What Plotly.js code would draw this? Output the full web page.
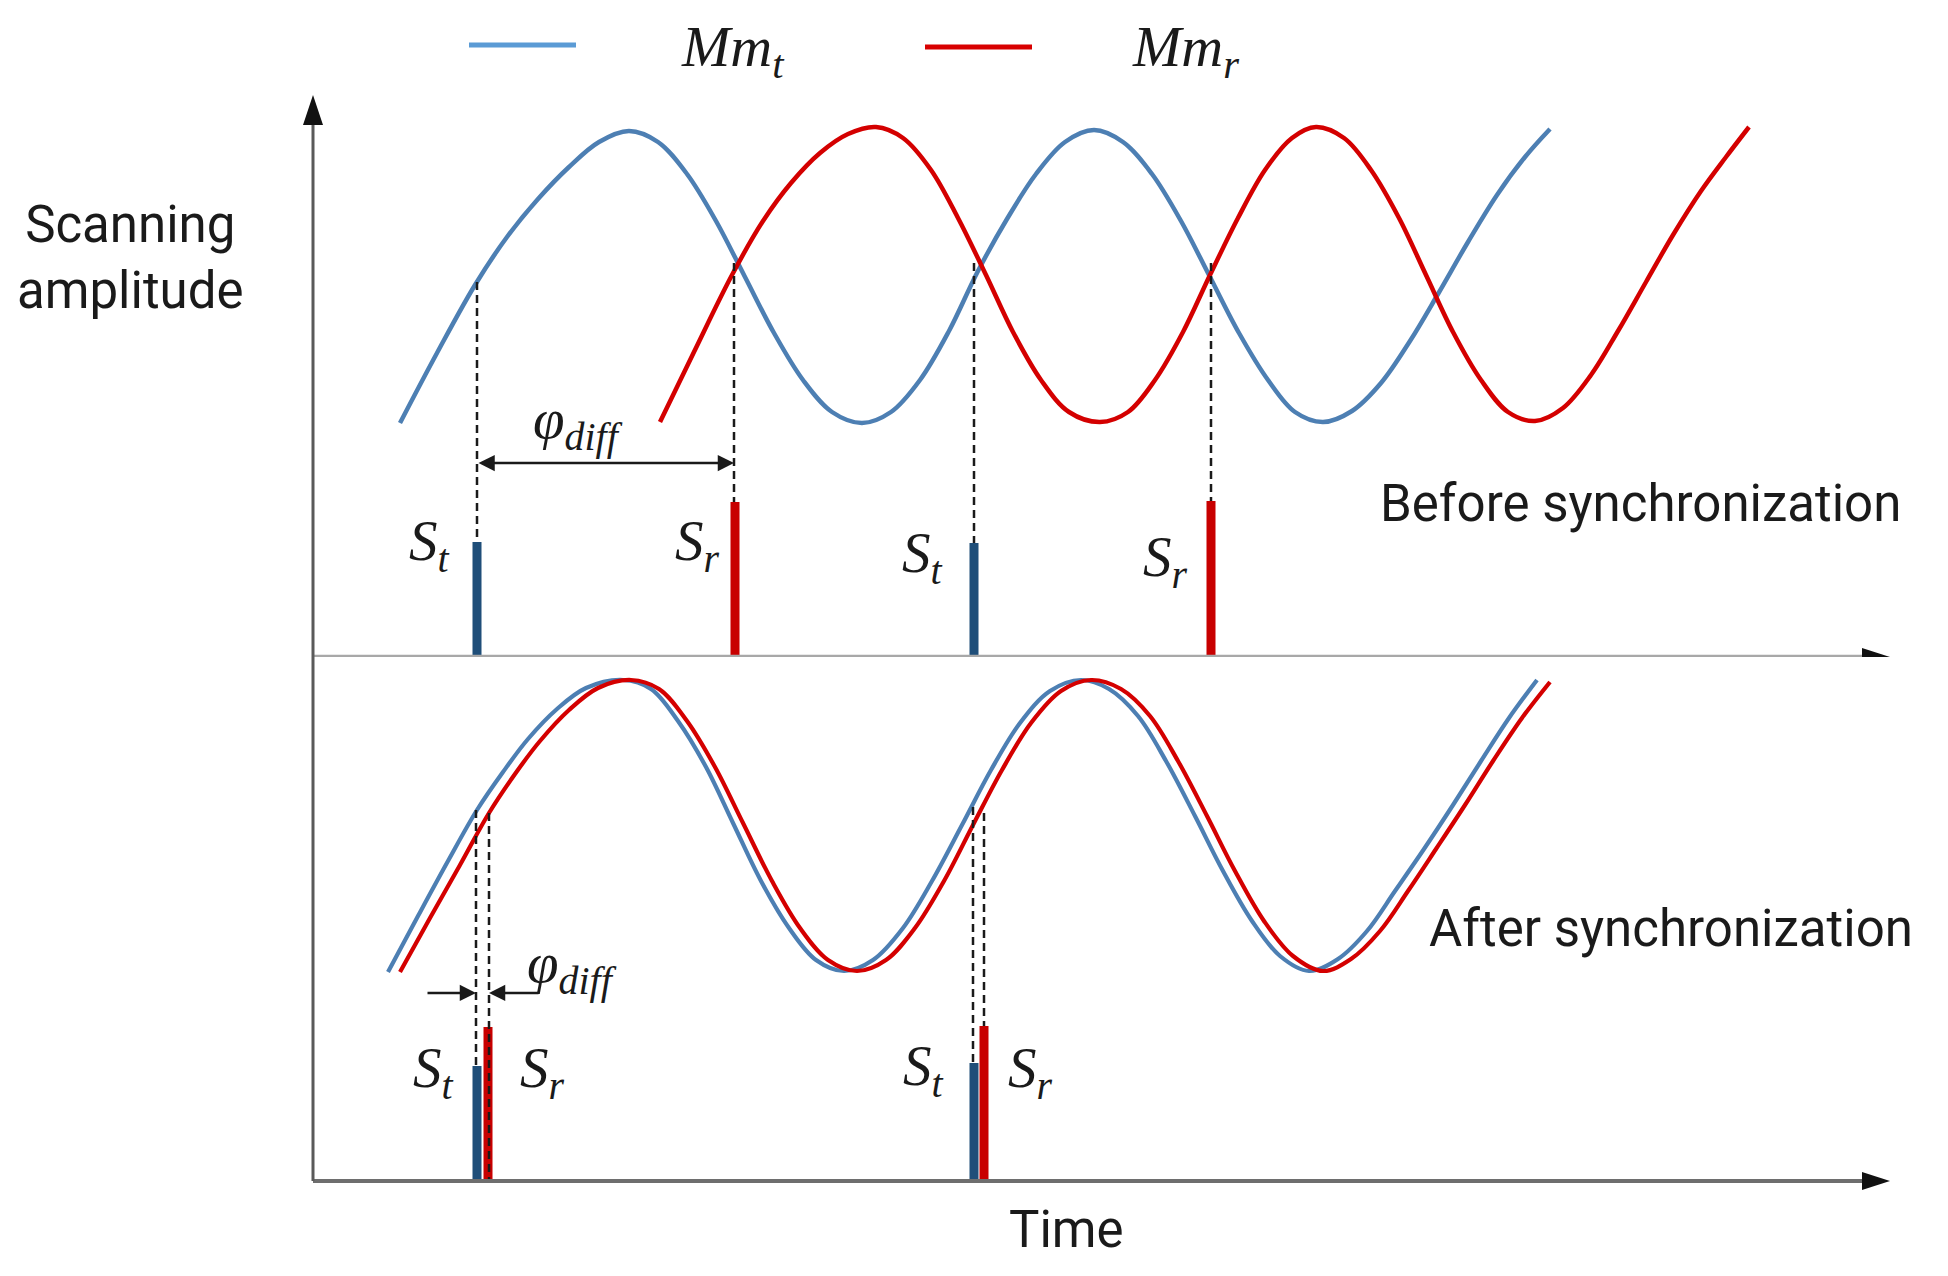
<!DOCTYPE html>
<html>
<head>
<meta charset="utf-8">
<script src="https://cdn.plot.ly/plotly-3.0.1.min.js"></script>
<style>html,body{margin:0;padding:0;background:#fff;}#chart{width:1948px;height:1276px;}</style>
</head>
<body>
<div id="chart"></div>
<script>
// ---- Data (time in arbitrary units, amplitude relative to each panel's time axis) ----
// Before synchronization (top panel)
const mmtBeforeX = [8.7, 12.4, 16.2, 19.4, 22.5, 25.6, 28.6, 31.6, 34.5, 37.4, 40.3, 43.2, 46.1, 49.0, 51.9, 54.9,
                    57.8, 60.7, 63.6, 66.5, 69.4, 72.3, 75.2, 78.1, 81.0, 83.9, 86.8, 89.7, 92.6, 95.5, 98.2, 101.0,
                    103.9, 106.8, 109.7, 112.5, 115.5, 118.4, 121.2, 123.7];
const mmtBeforeY = [23.4, 30.4, 37.2, 42.0, 45.8, 49.0, 51.5, 52.6, 51.5, 48.3, 43.6, 38.0, 32.4, 27.7, 24.5, 23.4,
                    24.5, 27.7, 32.6, 38.6, 43.8, 48.3, 51.5, 52.7, 51.5, 48.3, 43.6, 38.0, 32.4, 27.7, 24.5, 23.5,
                    24.6, 27.4, 31.6, 36.3, 41.5, 46.2, 50.0, 52.8];
const mmrBeforeX = [34.7, 38.0, 41.9, 45.0, 47.8, 50.7, 53.5, 56.3, 59.0, 61.8, 64.5, 67.3, 70.0, 72.8, 75.6, 78.7,
                    81.5, 84.2, 87.0, 89.7, 92.5, 95.2, 97.9, 100.3, 103.1, 105.8, 108.6, 111.3, 114.0, 116.8, 119.5, 122.2,
                    125.0, 127.8, 130.5, 133.3, 136.0, 138.8, 141.3, 143.6];
const mmrBeforeY = [23.5, 30.3, 38.2, 43.6, 47.4, 50.4, 52.3, 53.0, 51.9, 48.7, 43.9, 38.2, 32.5, 27.7, 24.5, 23.5,
                    24.5, 27.7, 32.5, 38.2, 43.9, 48.7, 51.9, 53.0, 51.9, 48.7, 43.9, 38.2, 32.5, 27.7, 24.5, 23.6,
                    24.9, 28.2, 32.6, 37.5, 42.2, 46.6, 50.0, 53.0];
// After synchronization (bottom panel)
const mmtAfterX = [7.5, 10.5, 13.5, 16.4, 19.0, 21.5, 24.4, 27.3, 31.0, 33.8, 36.5, 39.3, 42.0, 44.8, 47.6, 50.3, 53.1,
                   56.0, 59.0, 61.9, 64.9, 67.8, 70.7, 73.7, 76.8, 79.6, 82.5, 85.3, 88.2, 91.0, 93.9, 96.7, 99.6,
                   102.5, 105.4, 108.2, 111.1, 114.0, 116.8, 119.6, 122.4];
const mmtAfterY = [20.9, 26.5, 32.0, 37.1, 40.9, 44.2, 47.2, 49.3, 50.1, 49.2, 46.0, 41.4, 35.8, 30.0, 25.3, 22.1, 21.0,
                   22.1, 25.3, 30.0, 35.6, 41.1, 45.8, 49.0, 50.1, 49.2, 46.5, 42.0, 36.5, 31.0, 26.0, 22.5, 21.0,
                   22.2, 25.0, 29.0, 33.2, 37.6, 42.0, 46.3, 50.1];
const mmrAfterX = [8.7, 11.7, 14.7, 17.6, 20.2, 22.7, 25.6, 28.5, 31.8, 34.6, 37.4, 40.2, 43.0, 45.9, 48.7, 51.5, 54.4,
                   57.3, 60.2, 63.1, 66.0, 68.9, 71.8, 74.8, 77.8, 80.8, 83.7, 86.5, 89.4, 92.2, 95.1, 98.0, 101.0,
                   103.8, 106.7, 109.5, 112.3, 115.2, 118.0, 120.9, 123.7];
const mmrAfterY = [20.9, 26.3, 31.6, 36.8, 40.7, 44.0, 47.1, 49.3, 50.1, 49.2, 46.0, 41.4, 35.8, 30.0, 25.3, 22.1, 21.0,
                   22.1, 25.3, 30.0, 35.6, 41.1, 45.8, 49.0, 50.1, 49.2, 46.5, 42.0, 36.5, 31.0, 26.0, 22.5, 21.0,
                   22.2, 25.0, 29.0, 33.2, 37.6, 42.0, 46.3, 49.9];

// Trigger pulses S_t (blue) and S_r (red)
const pulseBeforeStX = [16.4, 66.1];
const pulseBeforeStH = [11.5, 11.4];
const pulseBeforeSrX = [42.2, 89.8];
const pulseBeforeSrH = [15.5, 15.6];
const pulseAfterStX = [16.4, 66.1];
const pulseAfterStH = [11.5, 11.8];
const pulseAfterSrX = [17.5, 67.1];
const pulseAfterSrH = [15.4, 15.5];

// Dashed guide lines: [x, yFrom(curve), yTo]
const guidesBefore = [[16.4, 37.5, 11.5], [42.1, 39.4, 15.5], [66.1, 39.4, 11.4], [89.8, 39.4, 15.6]];
const guidesAfter  = [[16.3, 37.1, 11.5], [17.6, 36.8, 0], [66.0, 37.4, 11.8], [67.1, 36.8, 15.5]];

// Phase-difference arrows
const phiBefore = {from: 16.4, to: 42.1, y: 19.4};
const phiAfter  = {left: [11.3, 16.3], right: [22.7, 17.6], y: 18.8};

const legendLabels = ['<i>Mm</i><sub><i>t</i></sub>', '<i>Mm</i><sub><i>r</i></sub>'];

// ---- Styles ----
const BLUE = '#4d7fb3', RED = '#d40000', BAR_BLUE = '#1f4e79', BAR_RED = '#c80000';
const LEG_BLUE = '#5b9bd5', LEG_RED = '#d80000';
const SANS = 'Roboto, "Noto Sans", sans-serif';
const SERIF = '"Liberation Serif", "DejaVu Serif", serif';

function guideTrace(list, yaxis) {
  const x = [], y = [];
  list.forEach(g => { x.push(g[0], g[0], null); y.push(g[1], g[2], null); });
  return {x, y, yaxis, type: 'scatter', mode: 'lines', hoverinfo: 'skip',
          line: {color: '#1a1a1a', width: 2.5, dash: '8px,5px'}};
}
function curve(x, y, color, yaxis, w) {
  return {x, y, yaxis, type: 'scatter', mode: 'lines', hoverinfo: 'skip',
          line: {color, width: w, shape: 'spline', smoothing: 1}};
}
function bars(x, h, color, yaxis) {
  return {x, y: h, yaxis, type: 'bar', width: 0.9, marker: {color, line: {width: 0}}, hoverinfo: 'skip'};
}

const traces = [
  bars(pulseBeforeStX, pulseBeforeStH, BAR_BLUE, 'y'),
  bars(pulseBeforeSrX, pulseBeforeSrH, BAR_RED, 'y'),
  bars(pulseAfterStX, pulseAfterStH, BAR_BLUE, 'y2'),
  bars(pulseAfterSrX, pulseAfterSrH, BAR_RED, 'y2'),
  curve(mmtBeforeX, mmtBeforeY, BLUE, 'y', 4.5),
  curve(mmrBeforeX, mmrBeforeY, RED, 'y', 4.5),
  curve(mmtAfterX, mmtAfterY, BLUE, 'y2', 4.2),
  curve(mmrAfterX, mmrAfterY, RED, 'y2', 4.2),
  guideTrace(guidesBefore, 'y'),
  guideTrace(guidesAfter, 'y2')
];

// axes drawn as decorations with arrowheads
const shapes = [
  {type: 'line', xref: 'x', yref: 'y', x0: 0, x1: 155.2, y0: 0, y1: 0, line: {color: '#a8a8a8', width: 4.5}},
  {type: 'path', xref: 'x', yref: 'y', path: 'M 154.9 0.9 L 157.7 0 L 154.9 -0.9 Z', fillcolor: '#111', line: {width: 0}},
  {type: 'line', xref: 'x', yref: 'y2', x0: 0, x1: 155.2, y0: 0, y1: 0, line: {color: '#6e6e6e', width: 4}},
  {type: 'path', xref: 'x', yref: 'y2', path: 'M 154.9 0.9 L 157.7 0 L 154.9 -0.9 Z', fillcolor: '#111', line: {width: 0}},
  {type: 'line', xref: 'x', yref: 'y', x0: 0, x1: 0, y0: 0, y1: 53.6, line: {color: '#5a5a5a', width: 3}},
  {type: 'line', xref: 'x', yref: 'y2', x0: 0, x1: 0, y0: 0, y1: 52.4, line: {color: '#5a5a5a', width: 3}},
  {type: 'path', xref: 'x', yref: 'y', path: 'M -1 53.2 L 0 56.2 L 1 53.2 Z', fillcolor: '#111', line: {width: 0}},
  // legend samples
  {type: 'line', xref: 'paper', yref: 'paper', x0: 469/1948, x1: 576/1948, y0: 1-45/1276, y1: 1-45/1276, line: {color: LEG_BLUE, width: 5}},
  {type: 'line', xref: 'paper', yref: 'paper', x0: 925/1948, x1: 1032/1948, y0: 1-47/1276, y1: 1-47/1276, line: {color: LEG_RED, width: 5}}
];

function txt(text, x, y, yref, size, family, extra) {
  return Object.assign({text, x, y, xref: 'x', yref, showarrow: false, xanchor: 'center', yanchor: 'middle',
    font: {family, size, color: '#1a1a1a'}}, extra || {});
}
function arrow(x, y, ax, ay, yref, both) {
  const a = {text: '', x, y, ax, ay, xref: 'x', yref, axref: 'x', ayref: yref, showarrow: true,
    arrowhead: 2, arrowsize: 1.25, arrowwidth: 2.6, arrowcolor: '#1a1a1a', standoff: 0, startstandoff: 0};
  if (both) { a.arrowside = 'end+start'; a.startarrowhead = 2; a.startarrowsize = 1.25; }
  return a;
}

const MATH = 57;
const annotations = [
  txt('Scanning<br>amplitude', -18.3, 40.0, 'y', 51, SANS),
  txt('Before synchronization', 132.7, 15.4, 'y', 51, SANS),
  txt('After synchronization', 135.8, 25.2, 'y2', 51, SANS),
  txt('Time', 75.3, -4.9, 'y2', 51, SANS),
  txt('<i>S</i><sub><i>t</i></sub>', 11.6, 11.2, 'y', MATH, SERIF),
  txt('<i>S</i><sub><i>r</i></sub>', 38.4, 11.2, 'y', MATH, SERIF),
  txt('<i>S</i><sub><i>t</i></sub>', 60.9, 10.0, 'y', MATH, SERIF),
  txt('<i>S</i><sub><i>r</i></sub>', 85.2, 9.6, 'y', MATH, SERIF),
  txt('<i>φ</i><sub><i>diff</i></sub>', 26.5, 23.4, 'y', MATH, SERIF),
  txt('<i>S</i><sub><i>t</i></sub>', 12.0, 10.9, 'y2', MATH, SERIF),
  txt('<i>S</i><sub><i>r</i></sub>', 22.9, 10.9, 'y2', MATH, SERIF),
  txt('<i>S</i><sub><i>t</i></sub>', 61.0, 11.1, 'y2', MATH, SERIF),
  txt('<i>S</i><sub><i>r</i></sub>', 71.7, 10.9, 'y2', MATH, SERIF),
  txt('<i>φ</i><sub><i>diff</i></sub>', 25.9, 21.4, 'y2', MATH, SERIF),
  arrow(phiBefore.to, phiBefore.y, phiBefore.from, phiBefore.y, 'y', true),
  arrow(phiAfter.left[1], phiAfter.y, phiAfter.left[0], phiAfter.y, 'y2', false),
  arrow(phiAfter.right[1], phiAfter.y, phiAfter.right[0], phiAfter.y, 'y2', false),
  {text: legendLabels[0], xref: 'paper', yref: 'paper', x: 679/1948, y: 1-50/1276, xanchor: 'left', yanchor: 'middle',
   showarrow: false, font: {family: SERIF, size: 58, color: '#1a1a1a'}},
  {text: legendLabels[1], xref: 'paper', yref: 'paper', x: 1130/1948, y: 1-50/1276, xanchor: 'left', yanchor: 'middle',
   showarrow: false, font: {family: SERIF, size: 58, color: '#1a1a1a'}}
];

const layout = {
  width: 1948, height: 1276,
  margin: {l: 0, r: 0, t: 0, b: 0, pad: 0},
  paper_bgcolor: '#ffffff', plot_bgcolor: 'rgba(0,0,0,0)',
  showlegend: false, barmode: 'overlay',
  xaxis: {range: [-31.3, 163.5], visible: false, fixedrange: true},
  yaxis: {domain: [0.48511, 1], range: [0, 65.7], visible: false, fixedrange: true},
  yaxis2: {domain: [0, 0.48511], range: [-9.5, 52.4], visible: false, fixedrange: true, anchor: 'x'},
  shapes, annotations
};

Plotly.newPlot('chart', traces, layout, {staticPlot: true, displayModeBar: false});
</script>
</body>
</html>
